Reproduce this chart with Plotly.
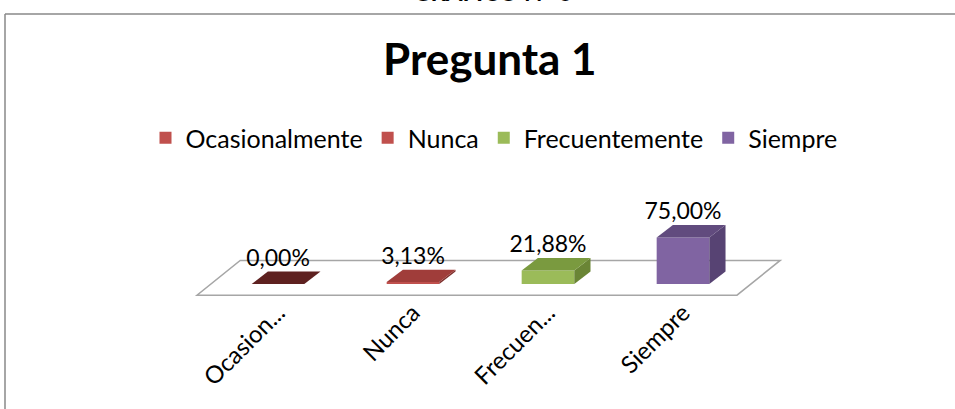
import plotly.graph_objects as go

# ---- data ----
CATEGORIES = ["Ocasionalmente", "Nunca", "Frecuentemente", "Siempre"]
TICK_LABELS = ["Ocasion...", "Nunca", "Frecuen...", "Siempre"]
VALUES = [0.00, 3.13, 21.88, 75.00]

# ---- styles ----
FRONT_COLORS = ["#C0504D", "#C0504D", "#9BBB59", "#8064A2"]
TOP_COLORS = ["#5E2120", "#A03D3A", "#7A9A3F", "#614B7E"]
SIDE_COLORS = ["#4A1A19", "#7E2F2D", "#6A8535", "#574373"]
FONT = "Lato"

W, H = 955, 409
OFF = 0           # page body margin removed via post_script
L, PW = 100, 810
T, PH = 150, 150
YPX0 = 284        # screen y of value 0
XPX0 = 278        # screen x of first category
PX_PER_X = PW / 6.0
PX_PER_Y = 0.62
XR = [-(XPX0 - OFF - L) / PX_PER_X, -(XPX0 - OFF - L) / PX_PER_X + 6.0]
YR = [(YPX0 - (OFF + T + PH)) / PX_PER_Y, (YPX0 - (OFF + T)) / PX_PER_Y]

HALF = 0.195      # half width of bar front face (x units)
DDX = 0.12        # depth offset x (x units)
DDY = 20.0        # depth offset y (y units)

fig = go.Figure()
n = len(CATEGORIES)

for i, (cat, v) in enumerate(zip(CATEGORIES, VALUES)):
    # front face (bar)
    fig.add_trace(go.Bar(
        x=[i], y=[v], base=0, width=2 * HALF, name=cat,
        marker=dict(color=FRONT_COLORS[i], line=dict(width=0)),
        hoverinfo="skip"))

for i, v in enumerate(VALUES):
    xl, xr = i - HALF, i + HALF
    # side face
    fig.add_trace(go.Scatter(
        x=[xr, xr + DDX, xr + DDX, xr, xr],
        y=[0, DDY, v + DDY, v, 0],
        mode="lines", fill="toself", fillcolor=SIDE_COLORS[i],
        line=dict(width=0, color=SIDE_COLORS[i]),
        showlegend=False, hoverinfo="skip"))
    # top face
    fig.add_trace(go.Scatter(
        x=[xl, xr, xr + DDX, xl + DDX, xl],
        y=[v, v, v + DDY, v + DDY, v],
        mode="lines", fill="toself", fillcolor=TOP_COLORS[i],
        line=dict(width=0, color=TOP_COLORS[i]),
        showlegend=False, hoverinfo="skip"))

# data labels
fig.add_trace(go.Scatter(
    x=list(range(n)),
    y=[v + DDY for v in VALUES],
    mode="text",
    text=[f"{v:.2f}".replace(".", ",") + "%" for v in VALUES],
    textposition="top center",
    textfont=dict(family=FONT, size=23, color="black"),
    showlegend=False, hoverinfo="skip"))

# screen pixel -> paper coordinate helpers
px2paper_x = lambda px: (px - OFF - L) / PW
px2paper_y = lambda py: (T + PH - (py - OFF)) / PH

# floor of the 3-D plot area
fx0, fx1 = -0.6, n - 1 + 0.4
fy0, fy1 = -18.0, 38.0
fdx = 0.32
floor_path = (f"M {fx0},{fy0} L {fx1},{fy0} L {fx1 + fdx},{fy1} "
              f"L {fx0 + fdx},{fy1} Z")

fig.update_layout(
    width=W, height=H,
    margin=dict(l=L, r=W - L - PW, t=T, b=H - T - PH, autoexpand=False),
    paper_bgcolor="white", plot_bgcolor="white",
    barmode="overlay",
    showlegend=True,
    legend=dict(orientation="h", x=px2paper_x(494), xanchor="center",
                y=px2paper_y(138), yanchor="middle",
                font=dict(family=FONT, size=25, color="black"),
                traceorder="normal"),
    xaxis=dict(range=XR, tickmode="array", tickvals=list(range(n)),
               ticktext=TICK_LABELS, tickangle=-45, automargin=False,
               ticklabelstandoff=-7,
               showgrid=False, zeroline=False, showline=False, ticks="",
               tickfont=dict(family=FONT, size=24, color="black")),
    yaxis=dict(range=YR, visible=False, showgrid=False, zeroline=False,
               automargin=False),
    shapes=[
        dict(type="path", xref="x", yref="y", path=floor_path,
             fillcolor="white", layer="below",
             line=dict(color="#A6A6A6", width=1.5)),
        dict(type="line", xref="paper", yref="paper",
             x0=px2paper_x(5), x1=px2paper_x(1000),
             y0=px2paper_y(14), y1=px2paper_y(14),
             line=dict(color="#888888", width=1.5)),
        dict(type="line", xref="paper", yref="paper",
             x0=px2paper_x(5), x1=px2paper_x(5),
             y0=px2paper_y(14), y1=px2paper_y(450),
             line=dict(color="#888888", width=1.5)),
    ],
    annotations=[
        dict(text="<b>Pregunta 1</b>", xref="paper", yref="paper",
             x=px2paper_x(490), y=px2paper_y(58), xanchor="center",
             yanchor="middle", showarrow=False,
             font=dict(family=FONT, size=44, color="black")),
        dict(text="<b>GRÁFICO N° 6</b>", xref="paper", yref="paper",
             x=px2paper_x(492), y=px2paper_y(8), xanchor="center",
             yanchor="bottom", showarrow=False,
             font=dict(family=FONT, size=24, color="black")),
    ],
)

fig.write_html("out.html",
               config={"displayModeBar": False},
               post_script="document.body.style.margin='0px';"
                           "document.body.style.padding='0px';")
